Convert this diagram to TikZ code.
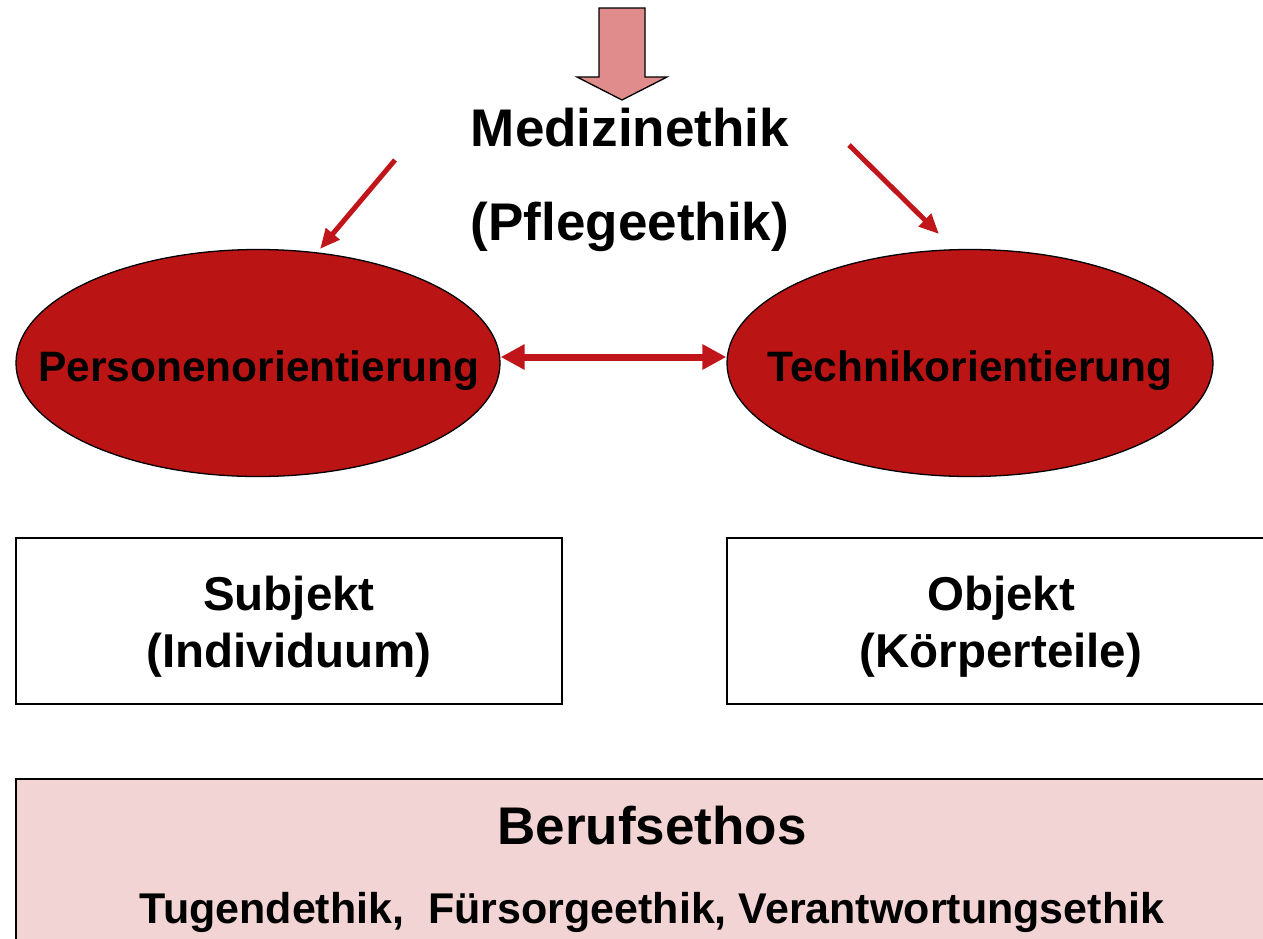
\documentclass[tikz,border=0pt]{standalone}
\usepackage{fontspec}
\setmainfont{Liberation Sans}
\usetikzlibrary{shapes.geometric,arrows.meta}
\definecolor{ellred}{RGB}{187,20,20}
\definecolor{arrred}{RGB}{192,21,26}
\definecolor{pinkfill}{RGB}{224,140,140}
\definecolor{lightpink}{RGB}{242,212,212}
\tikzset{
  oval/.style={ellipse, draw=black, line width=1.3pt, fill=ellred, minimum width=484pt, minimum height=227pt, inner sep=0pt, font=\fontsize{42.5}{48}\selectfont\bfseries},
  txtbig/.style={font=\fontsize{53}{60}\selectfont\bfseries, inner sep=0pt},
  boxtxt/.style={font=\fontsize{47.5}{57}\selectfont\bfseries, align=center, inner sep=0pt},
  redarrow/.style={draw=arrred, line width=5pt, -{Triangle[length=20pt,width=17pt]}},
  dblarrow/.style={draw=arrred, line width=7pt, {Triangle[length=24pt,width=24pt]}-{Triangle[length=24pt,width=24pt]}},
  plainbox/.style={draw=black, line width=1.3pt, fill=white}
}
\begin{document}
\begin{tikzpicture}[x=1pt,y=-1pt]
\useasboundingbox (0,0) rectangle (1263,938);
\clip (0,0) rectangle (1263,938);
% big down arrow
\draw[fill=pinkfill, line width=1.3pt] (599,8) -- (645,8) -- (645,77) -- (667,77) -- (622,100) -- (577,77) -- (599,77) -- cycle;
\node[txtbig] (med) at (630,128) {Medizinethik};
\node[txtbig] (pfl) at (630,227) {(Pflegeethik)};
\node[oval] (pers) at (258,363) {};
\node[font=\fontsize{42.5}{48}\selectfont\bfseries] (perst) at (259,371) {Personenorientierung};
\node[oval, minimum width=486pt] (tech) at (970,363) {};
\node[font=\fontsize{42.5}{48}\selectfont\bfseries] (techt) at (970,371) {Technikorientierung};
\coordinate (ls) at (395,160);
\coordinate (le) at (320,249);
\coordinate (rs) at (849,145);
\coordinate (re) at (939,234);
\draw[redarrow] (ls) -- (le);
\draw[redarrow] (rs) -- (re);
\draw[dblarrow] (pers.east |- 0,357) -- (tech.west |- 0,357);
% boxes
\draw[plainbox] (16,538) rectangle (562,704);
\node[boxtxt] (subj) at (289,627) {Subjekt\\(Individuum)};
\draw[plainbox] (727,538) rectangle (1275,704);
\node[boxtxt] (obj) at (1001,627) {Objekt\\(Körperteile)};
\draw[draw=black, line width=1.3pt, fill=lightpink] (16,779) rectangle (1290,960);
\node[txtbig] (beruf) at (652,826) {Berufsethos};
\node[font=\fontsize{43}{48}\selectfont\bfseries, inner sep=0pt] (tug) at (652,912) {Tugendethik,\ \ Fürsorgeethik, Verantwortungsethik};
\end{tikzpicture}
\end{document}
